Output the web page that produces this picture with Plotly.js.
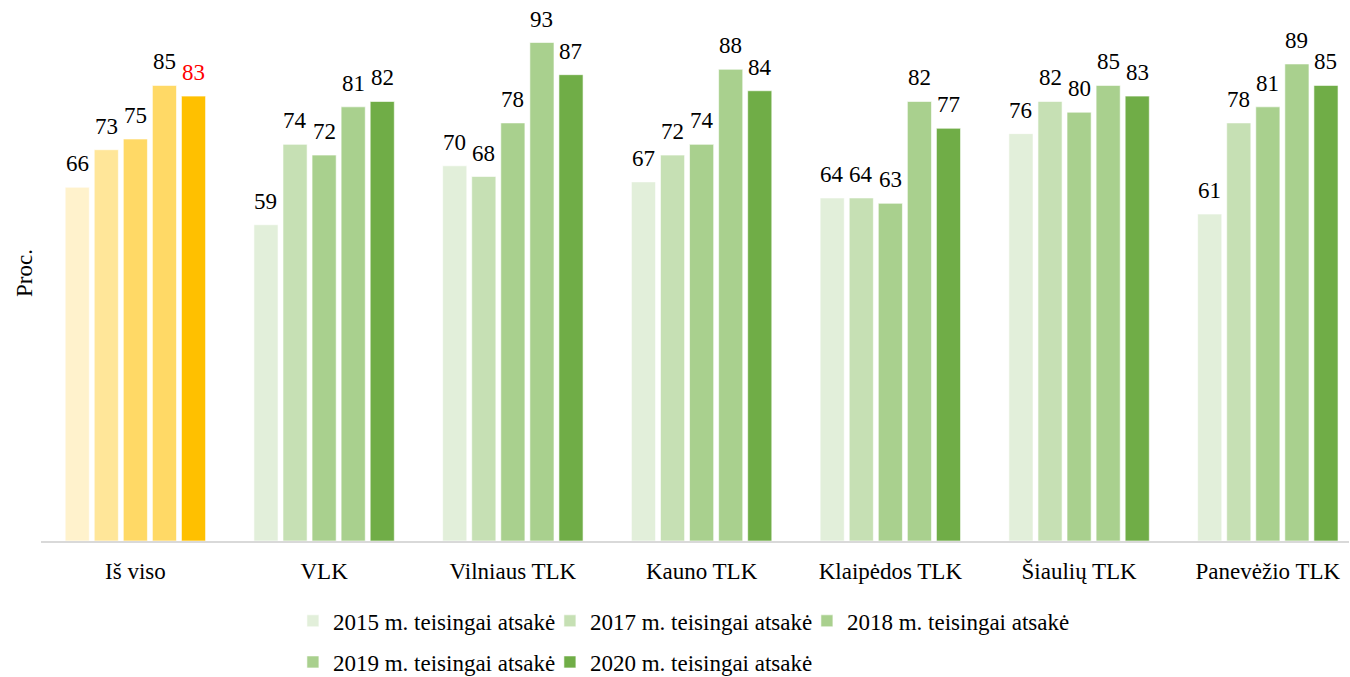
<!DOCTYPE html>
<html>
<head>
<meta charset="utf-8">
<script src="https://cdn.plot.ly/plotly-3.0.1.min.js"></script>
<style>html,body{margin:0;padding:0;background:#fff;}#chart{width:1350px;height:677px;}</style>
</head>
<body>
<div id="chart"></div>
<script>
const categories = ["Iš viso", "VLK", "Vilniaus TLK", "Kauno TLK", "Klaipėdos TLK", "Šiaulių TLK", "Panevėžio TLK"];
const seriesNames = ["2015 m. teisingai atsakė", "2017 m. teisingai atsakė", "2018 m. teisingai atsakė", "2019 m. teisingai atsakė", "2020 m. teisingai atsakė"];
const v2015 = [66, 59, 70, 67, 64, 76, 61];
const v2017 = [73, 74, 68, 72, 64, 82, 78];
const v2018 = [75, 72, 78, 74, 63, 80, 81];
const v2019 = [85, 81, 93, 88, 82, 85, 89];
const v2020 = [83, 82, 87, 84, 77, 83, 85];
const greenColors = ["#E2EFDA", "#C6E0B4", "#A9D08E", "#A9D08E", "#70AD47"];
const yellowColors = ["#FFF2CC", "#FFE699", "#FFD966", "#FFD966", "#FFC000"];
const allValues = [v2015, v2017, v2018, v2019, v2020];

const font = "Liberation Serif";
const FS = 23;
const bargap = 0.23;
const nSeries = allValues.length;
const slot = (1 - bargap) / nSeries;

const traces = [];
allValues.forEach((vals, j) => {
  traces.push({
    type: "bar",
    name: seriesNames[j],
    x: categories.slice(1),
    y: vals.slice(1),
    offsetgroup: String(j),
    legend: j < 3 ? "legend" : "legend2",
    marker: {color: greenColors[j], line: {color: "rgba(255,255,255,0.6)", width: 1}},
    hoverinfo: "none"
  });
});
// invisible spacer entries so the last legend text of each row is not clipped
["legend", "legend2"].forEach((lg) => {
  traces.push({
    type: "bar",
    name: " ",
    x: [categories[1]],
    y: [null],
    offsetgroup: "0",
    legend: lg,
    marker: {color: "rgba(0,0,0,0)"},
    hoverinfo: "none"
  });
});
allValues.forEach((vals, j) => {
  traces.push({
    type: "bar",
    name: seriesNames[j],
    x: [categories[0]],
    y: [vals[0]],
    offsetgroup: String(j),
    showlegend: false,
    marker: {color: yellowColors[j], line: {color: "rgba(255,255,255,0.6)", width: 1}},
    hoverinfo: "none"
  });
});

const annotations = [];
allValues.forEach((vals, j) => {
  vals.forEach((v, i) => {
    annotations.push({
      x: i + (j - (nSeries - 1) / 2) * slot,
      y: v,
      xref: "x", yref: "y",
      text: String(v),
      showarrow: false,
      yanchor: "bottom",
      yshift: 9,
      font: {family: font, size: FS, color: (i === 0 && j === 4) ? "#FF0000" : "#000000"}
    });
  });
});

const legendCommon = {
  orientation: "h",
  xanchor: "left",
  yanchor: "middle",
  font: {family: font, size: FS, color: "#000"},
  entrywidth: 212,
  traceorder: "normal",
  itemclick: false,
  bgcolor: "rgba(0,0,0,0)"
};

const layout = {
  width: 1350, height: 677,
  margin: {l: 41, r: 1, t: 5, b: 136, autoexpand: false},
  paper_bgcolor: "#fff", plot_bgcolor: "#fff",
  barmode: "group",
  bargap: bargap,
  bargroupgap: 0.17,
  font: {family: font, size: FS, color: "#000"},
  xaxis: {
    type: "category",
    categoryorder: "array",
    categoryarray: categories,
    range: [-0.5, 6.43],
    showline: true, linecolor: "#D9D9D9", linewidth: 2,
    ticks: "", showgrid: false,
    ticklabelstandoff: 8,
    tickfont: {family: font, size: FS, color: "#000"}
  },
  yaxis: {
    range: [0, 100],
    showticklabels: false, showgrid: false, zeroline: false, ticks: "",
    title: {text: "Proc.", font: {family: font, size: FS, color: "#000"}, standoff: 0}
  },
  showlegend: true,
  legend: Object.assign({}, legendCommon, {x: 0.1926, y: -0.149}),
  legend2: Object.assign({}, legendCommon, {x: 0.1926, y: -0.2257}),
  annotations: annotations
};

Plotly.newPlot("chart", traces, layout, {displayModeBar: false, staticPlot: true});
</script>
</body>
</html>
